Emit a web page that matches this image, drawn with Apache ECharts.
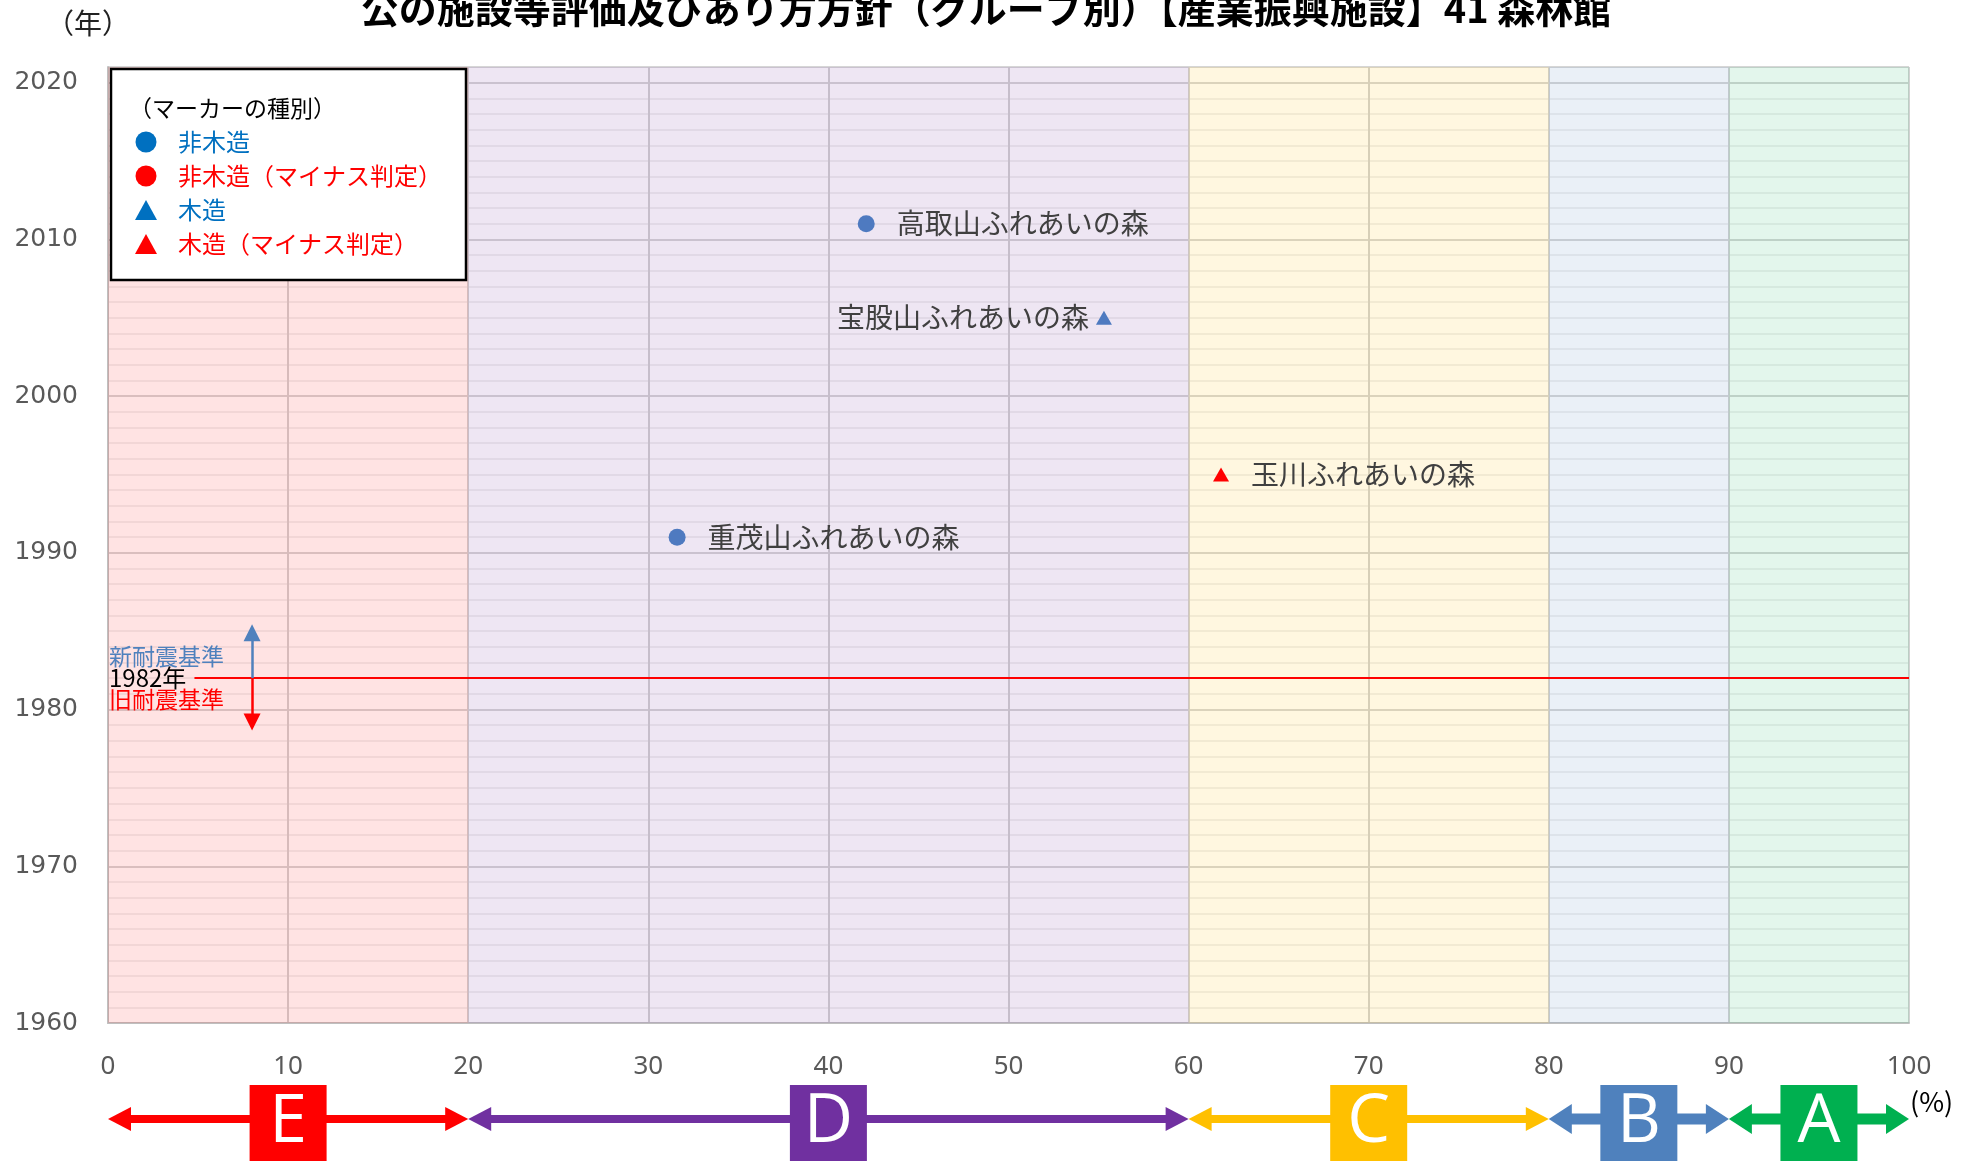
<!DOCTYPE html>
<html><head><meta charset="utf-8">
<script src="https://cdn.jsdelivr.net/npm/echarts@6/dist/echarts.min.js"></script>
<style>html,body{margin:0;padding:0;background:#fff}#c{width:1972px;height:1161px}</style>
</head><body><div id="c"></div>
<script>
// ---- data ----
const titleText = '公の施設等評価及びあり方方針（グループ別）【産業振興施設】41 森林館';
const facilityNames = ['高取山ふれあいの森', '宝股山ふれあいの森', '玉川ふれあいの森', '重茂山ふれあいの森'];
const facilityRates = [42.1, 55.3, 61.8, 31.6];
const facilityYears = [2011, 2005, 1995, 1991];
const facilityTypes = ['nonwood', 'wood', 'woodMinus', 'nonwood'];
const yearTicks = [1960, 1970, 1980, 1990, 2000, 2010, 2020];
const rateTicks = [0, 10, 20, 30, 40, 50, 60, 70, 80, 90, 100];
const bandStart = [0, 20, 60, 80, 90];
const bandEnd = [20, 60, 80, 90, 100];
const bandLetters = ['E', 'D', 'C', 'B', 'A'];
const quakeYear = 1982;
const newStdTop = 1984.9;
const oldStdBottom = 1979.2;
const quakeArrowX = 8;
const quakeLineStartX = 4.8;
const legendItems = ['非木造', '非木造（マイナス判定）', '木造', '木造（マイナス判定）'];

// ---- styles ----
const JP = '"Noto Sans CJK JP", "Noto Sans", sans-serif';
const bandColors = ['#FF0000', '#7030A0', '#FFC000', '#4F81BD', '#00B050'];
const bandFills = ['rgba(255,0,0,0.11)', 'rgba(112,48,160,0.12)', 'rgba(255,192,0,0.12)', 'rgba(79,129,189,0.12)', 'rgba(0,176,80,0.11)'];
const bandThick = [8, 8, 8, 11, 11];
const bandHead = [24, 24, 24, 30, 30];
const typeStyle = {
  nonwood: {symbol: 'circle', size: 17, color: '#4E7AC0'},
  nonwoodMinus: {symbol: 'circle', size: 17, color: '#FF0000'},
  wood: {symbol: 'triangle', size: [16, 14], color: '#4E7AC0'},
  woodMinus: {symbol: 'triangle', size: [16, 14], color: '#FF0000'}
};
const labelSide = {'宝股山ふれあいの森': 'left'};
const legendColors = ['#0070C0', '#FF0000', '#0070C0', '#FF0000'];
const legendSymbols = ['circle', 'circle', 'triangle', 'triangle'];

const yMin = 1960, yMax = 2021;

function pointsOf(type) {
  const out = [];
  facilityNames.forEach((n, i) => {
    if (facilityTypes[i] === type) {
      const side = labelSide[n] || 'right';
      out.push({value: [facilityRates[i], facilityYears[i]], name: n,
        label: {position: side, distance: side === 'left' ? 7 : 22}});
    }
  });
  return out;
}

const series = ['nonwood', 'nonwoodMinus', 'wood', 'woodMinus'].map((t, k) => ({
  type: 'scatter',
  yAxisIndex: 1,
  symbol: typeStyle[t].symbol,
  symbolSize: typeStyle[t].size,
  itemStyle: {color: typeStyle[t].color, opacity: 1},
  data: pointsOf(t),
  z: 5,
  label: {show: true, formatter: p => p.name, color: '#404040', fontSize: 28, fontFamily: JP},
  emphasis: {disabled: true}
}));

series[0].markArea = {
  silent: true,
  itemStyle: {borderWidth: 0},
  data: bandStart.map((s, i) => [
    {xAxis: s, yAxis: yMin, itemStyle: {color: bandFills[i]}},
    {xAxis: bandEnd[i], yAxis: yMax}
  ])
};
series[0].markLine = {
  silent: true,
  symbol: 'none',
  label: {show: false},
  data: [
    [{coord: [quakeLineStartX, quakeYear], lineStyle: {color: '#FF0000', width: 2, type: 'solid'}}, {coord: [100, quakeYear]}],
    [{coord: [quakeArrowX, quakeYear], symbol: 'none', lineStyle: {color: '#4F81BD', width: 2.5, type: 'solid'}},
     {coord: [quakeArrowX, newStdTop], symbol: 'triangle', symbolSize: [17, 17]}],
    [{coord: [quakeArrowX, quakeYear], symbol: 'none', lineStyle: {color: '#FF0000', width: 2.5, type: 'solid'}},
     {coord: [quakeArrowX, oldStdBottom], symbol: 'triangle', symbolSize: [17, 17]}]
  ]
};

const chart = echarts.init(document.getElementById('c'), null, {renderer: 'canvas'});
chart.setOption({
  animation: false,
  backgroundColor: '#fff',
  title: {
    text: titleText, left: 'center', top: -15,
    textStyle: {fontSize: 38, fontWeight: 'bold', color: '#000', fontFamily: JP}
  },
  grid: {left: 108, right: 63, top: 67, bottom: 138},
  xAxis: {
    type: 'value', min: rateTicks[0], max: rateTicks[rateTicks.length - 1], interval: 10,
    axisLine: {show: true, lineStyle: {color: '#BFBFBF', width: 2}},
    axisTick: {show: false},
    axisLabel: {margin: 31, color: '#595959', fontSize: 26, fontFamily: '"Noto Sans", sans-serif',
      formatter: v => rateTicks.includes(v) ? String(v) : ''},
    splitLine: {show: true, lineStyle: {color: '#D2D2D2', width: 2}}
  },
  yAxis: [
    {
      type: 'value', min: yMin, max: yMax, interval: 1, position: 'right',
      axisLine: {show: false}, axisTick: {show: false}, axisLabel: {show: false},
      splitLine: {show: true, lineStyle: {color: '#EDEDED', width: 1.5}}
    },
    {
      type: 'value', min: yMin, max: yMax, interval: 10, position: 'left',
      axisLine: {show: true, lineStyle: {color: '#BFBFBF', width: 2}},
      axisTick: {show: false},
      axisLabel: {margin: 30, color: '#595959', fontSize: 25, fontFamily: '"DejaVu Sans", sans-serif',
        padding: [8, 0, 0, 0],
        formatter: v => yearTicks.includes(v) ? String(v) : ''},
      splitLine: {show: true, lineStyle: {color: '#D6D6D6', width: 2}}
    }
  ],
  series: series
});

function px(x, y) { return chart.convertToPixel({gridIndex: 0}, [x, y]); }

const g = [];
// unit label and percent
g.push({type: 'text', z: 100, x: 46, y: 23, style: {text: '（年）', font: '28px ' + JP, fill: '#222', textVerticalAlign: 'middle'}});
const p100 = px(100, yMin);
g.push({type: 'text', z: 100, x: p100[0] + 1, y: p100[1] + 79, style: {text: '(%)', font: '27px ' + JP, fill: '#000', textVerticalAlign: 'middle'}});

// legend box
const lx = 111, ly = 69;
g.push({type: 'rect', z: 100, shape: {x: lx, y: ly, width: 355, height: 211}, style: {fill: '#fff', stroke: '#000', lineWidth: 2.5}});
g.push({type: 'text', z: 101, x: lx + 18, y: ly + 39, style: {text: '（マーカーの種別）', font: '23px ' + JP, fill: '#000', textVerticalAlign: 'middle'}});
legendItems.forEach((t, i) => {
  const cy = ly + 73 + i * 34;
  if (legendSymbols[i] === 'circle') {
    g.push({type: 'circle', z: 101, shape: {cx: lx + 35, cy: cy, r: 10.5}, style: {fill: legendColors[i]}});
  } else {
    g.push({type: 'polygon', z: 101, shape: {points: [[lx + 35, cy - 10], [lx + 46, cy + 10], [lx + 24, cy + 10]]}, style: {fill: legendColors[i]}});
  }
  g.push({type: 'text', z: 101, x: lx + 67, y: cy, style: {text: t, font: '24px ' + JP, fill: legendColors[i], textVerticalAlign: 'middle'}});
});

// earthquake standard labels
const q = px(0, quakeYear);
g.push({type: 'text', z: 100, x: q[0] + 1, y: q[1] - 22, style: {text: '新耐震基準', font: '23px ' + JP, fill: '#4F81BD', textVerticalAlign: 'middle'}});
g.push({type: 'text', z: 100, x: q[0] + 1, y: q[1], style: {text: '1982年', font: '24px ' + JP, fill: '#000', textVerticalAlign: 'middle'}});
g.push({type: 'text', z: 100, x: q[0] + 1, y: q[1] + 21, style: {text: '旧耐震基準', font: '23px ' + JP, fill: '#FF0000', textVerticalAlign: 'middle'}});

// bottom group arrows and boxes
const arrowY = px(0, yMin)[1] + 96;
bandStart.forEach((s, i) => {
  const x0 = px(s, yMin)[0], x1 = px(bandEnd[i], yMin)[0];
  const c = bandColors[i], t = bandThick[i], h = bandHead[i], hl = 23;
  g.push({type: 'rect', z: 100, shape: {x: x0 + hl - 1, y: arrowY - t / 2, width: x1 - x0 - 2 * hl + 2, height: t}, style: {fill: c}});
  g.push({type: 'polygon', z: 100, shape: {points: [[x0, arrowY], [x0 + hl, arrowY - h / 2], [x0 + hl, arrowY + h / 2]]}, style: {fill: c}});
  g.push({type: 'polygon', z: 100, shape: {points: [[x1, arrowY], [x1 - hl, arrowY - h / 2], [x1 - hl, arrowY + h / 2]]}, style: {fill: c}});
  const cx = px((s + bandEnd[i]) / 2, yMin)[0];
  g.push({type: 'rect', z: 101, shape: {x: cx - 38.5, y: arrowY - 34, width: 77, height: 76}, style: {fill: c}});
  g.push({type: 'text', z: 102, x: cx, y: arrowY + 4, style: {text: bandLetters[i], font: '68px "Open Sans", "Noto Sans", sans-serif', fill: '#fff', textAlign: 'center', textVerticalAlign: 'middle'}});
});

chart.setOption({graphic: {elements: g}});
</script>
</body></html>
